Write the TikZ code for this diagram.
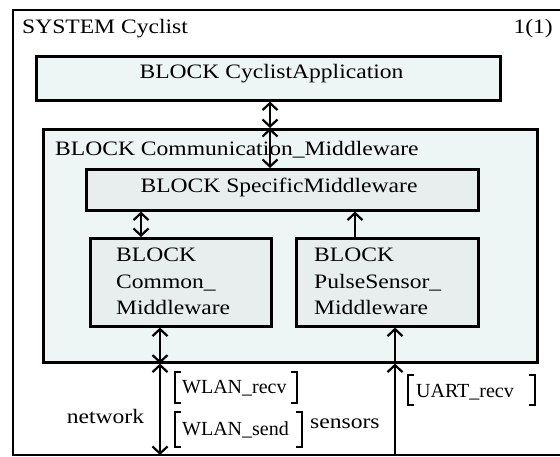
\documentclass[tikz,border=0pt]{standalone}
\usepackage{fontspec}
\setmainfont{Liberation Serif}[FakeStretch=1.15]
\newfontfamily\sigfont{Liberation Serif}
\usetikzlibrary{arrows.meta}

\definecolor{outerfill}{HTML}{EEF5F5}
\definecolor{innerfill}{HTML}{E8EEEE}

\tikzset{
  chtip/.tip={Straight Barb[length=7pt,width=15pt,line width=2.2pt]},
  blockbox/.style={draw=black, line width=2.6pt, inner sep=0pt, anchor=north west},
  lbl/.style={inner sep=0pt, font=\fontsize{20.5}{26.5}\selectfont},
  siglbl/.style={inner sep=0pt, anchor=base west, font=\sigfont\fontsize{20}{24}\selectfont},
  chan/.style={line width=2.4pt},
  both/.style={chan, chtip-chtip},
  oneway/.style={chan, -chtip},
  sigbracket/.style={line width=2.4pt}
}

\begin{document}
\begin{tikzpicture}[x=1pt,y=-1pt]
\useasboundingbox (0,0) rectangle (560,457);
\clip (0,0) rectangle (560,457);

% system frame (open on the right)
\draw[line width=2.8pt] (575,10) -| (13,455) -- (575,455);
\coordinate (fb) at (0,455);

\node[lbl, anchor=base west] (sysname) at (22,34) {SYSTEM Cyclist};
\node[lbl, anchor=base east] (page) at (553,34) {1(1)};

% blocks
\node[blockbox, fill=outerfill, minimum width=464pt, minimum height=44pt] (cyc) at (35,55) {};
\node[lbl, anchor=base] (cyct) at (271.5,78.5) {BLOCK CyclistApplication};

\node[blockbox, fill=outerfill, minimum width=494pt, minimum height=233pt] (comm) at (42,128) {};
\node[lbl, anchor=base west] (commt) at (55,156) {BLOCK Communication\_Middleware};

\node[blockbox, fill=innerfill, minimum width=392pt, minimum height=41pt] (spec) at (85,168) {};
\node[lbl, anchor=base] (spect) at (279,193) {BLOCK SpecificMiddleware};

% multi-line labels: the base anchor sits on the last line
\node[blockbox, fill=innerfill, minimum width=181pt, minimum height=88pt] (common) at (89,237) {};
\node[lbl, anchor=base west, align=left] (commont) at (116,315) {BLOCK\\Common\_\\Middleware};

\node[blockbox, fill=innerfill, minimum width=182pt, minimum height=88pt] (pulse) at (295,237) {};
\node[lbl, anchor=base west, align=left] (pulset) at (314,315) {BLOCK\\PulseSensor\_\\Middleware};

% channel positions
\coordinate (xa) at (270,0);
\coordinate (xb) at (141,0);
\coordinate (xc) at (355,0);
\coordinate (xd) at (160,0);
\coordinate (xe) at (395,0);

% channels
\draw[both] (cyc.south -| xa) -- (comm.north -| xa);
\draw[both] (comm.north -| xa) -- (spec.north -| xa);
\draw[both] (spec.south -| xb) -- (common.north -| xb);
\draw[oneway] (pulse.north -| xc) -- (spec.south -| xc);
\draw[both] (common.south -| xd) -- (comm.south -| xd);
\draw[both] (comm.south -| xd) -- (fb -| xd);
\draw[oneway] (comm.south -| xe) -- (pulse.south -| xe);
\draw[oneway] (fb -| xe) -- (comm.south -| xe);

% channel names and signal lists
\node[lbl, anchor=base] (net) at (105.5,423) {network};
\node[lbl, anchor=base west] (sens) at (310,428) {sensors};

\node[siglbl] (wr) at (182,393) {WLAN\_recv};
\draw[sigbracket] (181,372) -- (175,372) -- (175,403) -- (181,403);
\draw[sigbracket] (291,372) -- (297,372) -- (297,403) -- (291,403);

\node[siglbl] (ws) at (182,435) {WLAN\_send};
\draw[sigbracket] (181,412) -- (175,412) -- (175,447) -- (181,447);
\draw[sigbracket] (296,412) -- (302,412) -- (302,447) -- (296,447);

\node[siglbl] (ur) at (416,397) {UART\_recv};
\draw[sigbracket] (414,375) -- (408,375) -- (408,405) -- (414,405);
\draw[sigbracket] (529,375) -- (535,375) -- (535,405) -- (529,405);
\end{tikzpicture}
\end{document}
